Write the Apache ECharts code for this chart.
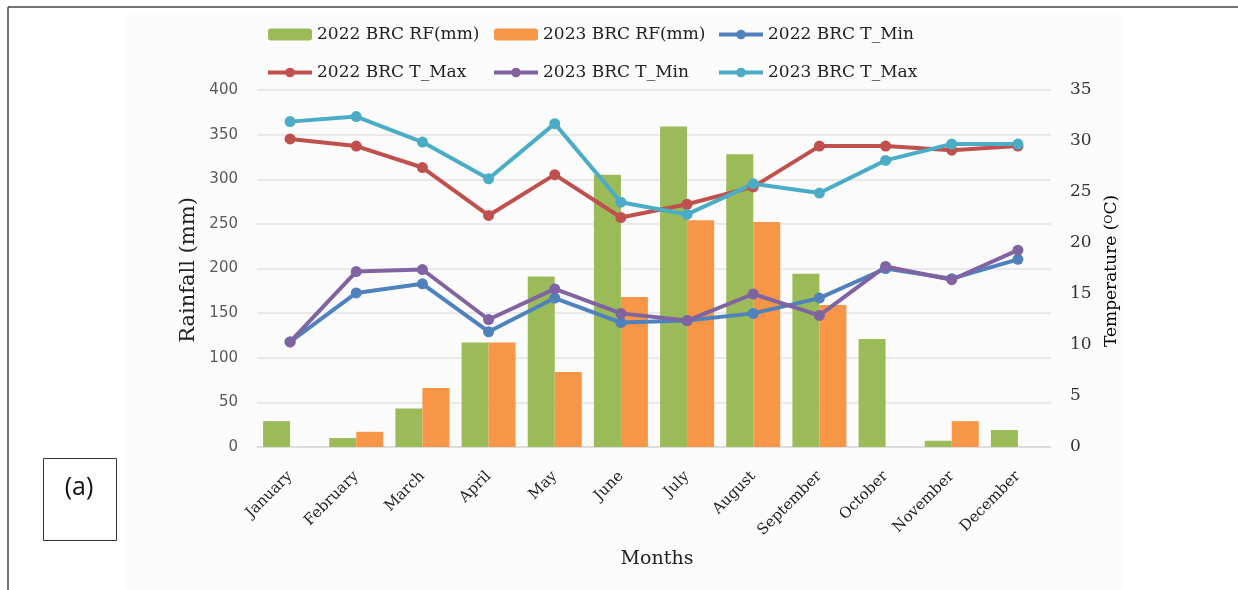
<!DOCTYPE html>
<html>
<head>
<meta charset="UTF-8">
<title>BRC rainfall and temperature</title>
<script src="https://cdn.jsdelivr.net/npm/echarts@6/dist/echarts.min.js"></script>
<style>
body { margin: 0; background: #fff; }
#chart { width: 1238px; height: 590px; }
</style>
</head>
<body>
<div id="chart"></div>
<script>
// months on the x axis
var months = ['January', 'February', 'March', 'April', 'May', 'June',
  'July', 'August', 'September', 'October', 'November', 'December'];

// rainfall (mm)
var rf2022 = [29, 10, 43, 117, 191, 305, 359, 328, 194, 121, 7, 19];
var rf2023 = [null, 17, 66, 117, 84, 168, 254, 252, 159, null, 29, null];

// temperatures (degC)
var tmin2022 = [10.3, 15.1, 16.0, 11.3, 14.6, 12.2, 12.4, 13.1, 14.6, 17.5, 16.5, 18.4];
var tmax2022 = [30.2, 29.5, 27.4, 22.7, 26.7, 22.5, 23.8, 25.5, 29.5, 29.5, 29.1, 29.5];
var tmin2023 = [10.3, 17.2, 17.4, 12.5, 15.5, 13.1, 12.4, 15.0, 12.9, 17.7, 16.4, 19.3];
var tmax2023 = [31.9, 32.4, 29.9, 26.3, 31.7, 24.0, 22.8, 25.8, 24.9, 28.1, 29.7, 29.7];

// axis ticks: min, max, step
var rfTicks = [0, 400, 50];
var tTicks = [0, 35, 5];

var chart = echarts.init(document.getElementById('chart'));

var serif = '"DejaVu Serif", serif';

function lineSeries(name, data, color) {
  return {
    name: name,
    type: 'line',
    yAxisIndex: 1,
    data: data,
    symbol: 'circle',
    symbolSize: 11,
    z: 5,
    itemStyle: { color: color },
    lineStyle: { color: color, width: 4 }
  };
}

// legend is laid out in three columns of two rows
function legendCol(left, names) {
  return {
    orient: 'vertical',
    left: left,
    top: 26,
    padding: 0,
    itemGap: 21,
    itemWidth: 44,
    itemHeight: 12,
    lineStyle: { width: 4 },
    textStyle: { fontFamily: serif, fontSize: 17, color: '#222' },
    data: names
  };
}

var option = {
  animation: false,
  backgroundColor: '#fff',
  graphic: [
    { type: 'rect', z: -10, shape: { x: 125, y: 15, width: 997, height: 575 }, style: { fill: '#fbfbfb' } },
    { type: 'line', shape: { x1: 8, y1: 7, x2: 1238, y2: 7 }, style: { stroke: '#444', lineWidth: 1.5 } },
    { type: 'line', shape: { x1: 8, y1: 7, x2: 8, y2: 590 }, style: { stroke: '#444', lineWidth: 1.5 } },
    { type: 'rect', shape: { x: 43.5, y: 458.5, width: 73, height: 82 }, style: { fill: '#fff', stroke: '#333', lineWidth: 1 } },
    { type: 'text', x: 79, y: 488, style: { text: '(a)', font: '25px "Open Sans", sans-serif', fill: '#111', align: 'center', verticalAlign: 'middle' } },
    { type: 'text', x: 189, y: 270, rotation: Math.PI / 2,
      style: { text: 'Rainfall (mm)', font: '21px ' + serif, fill: '#222', align: 'center', verticalAlign: 'middle' } },
    { type: 'text', x: 1112, y: 271, rotation: Math.PI / 2,
      style: {
        text: '{n|Temperature (}{s|O}{n|C)}',
        align: 'center', verticalAlign: 'middle',
        rich: {
          n: { fontFamily: serif, fontSize: 17, color: '#222' },
          s: { fontFamily: serif, fontSize: 11, color: '#222', verticalAlign: 'top', padding: [0, 0, 6, 0] }
        }
      } },
    { type: 'text', x: 657, y: 559, style: { text: 'Months', font: '19px ' + serif, fill: '#222', align: 'center', verticalAlign: 'middle' } }
  ],
  legend: [
    legendCol(266, ['2022 BRC RF(mm)', '2022 BRC T_Max']),
    legendCol(492, ['2023 BRC RF(mm)', '2023 BRC T_Min']),
    legendCol(717, ['2022 BRC T_Min', '2023 BRC T_Max'])
  ],
  grid: { left: 257, right: 187, top: 90, bottom: 143 },
  xAxis: {
    type: 'category',
    data: months,
    axisLine: { lineStyle: { color: '#d9d9d9', width: 1.5 } },
    axisTick: { show: false },
    axisLabel: { rotate: 45, margin: 27, fontFamily: serif, fontSize: 15, color: '#222', interval: 0 }
  },
  yAxis: [
    {
      type: 'value',
      min: rfTicks[0], max: rfTicks[1], interval: rfTicks[2],
      axisLine: { show: false },
      axisTick: { show: false },
      splitLine: { lineStyle: { color: '#e3e3e3', width: 1.5 } },
      axisLabel: { margin: 19, fontFamily: '"DejaVu Sans", sans-serif', fontSize: 15, color: '#595959' }
    },
    {
      type: 'value',
      min: tTicks[0], max: tTicks[1], interval: tTicks[2],
      axisLine: { show: false },
      axisTick: { show: false },
      splitLine: { show: false },
      axisLabel: { margin: 19, fontFamily: serif, fontSize: 17, color: '#333' }
    }
  ],
  series: [
    { name: '2022 BRC RF(mm)', type: 'bar', data: rf2022, barWidth: 27, barGap: '0%', itemStyle: { color: '#9bbb59' } },
    { name: '2023 BRC RF(mm)', type: 'bar', data: rf2023, barWidth: 27, barGap: '0%', itemStyle: { color: '#f79646' } },
    lineSeries('2022 BRC T_Min', tmin2022, '#4f81bd'),
    lineSeries('2022 BRC T_Max', tmax2022, '#c0504d'),
    lineSeries('2023 BRC T_Min', tmin2023, '#8064a2'),
    lineSeries('2023 BRC T_Max', tmax2023, '#4bacc6')
  ]
};

chart.setOption(option);
</script>
</body>
</html>
